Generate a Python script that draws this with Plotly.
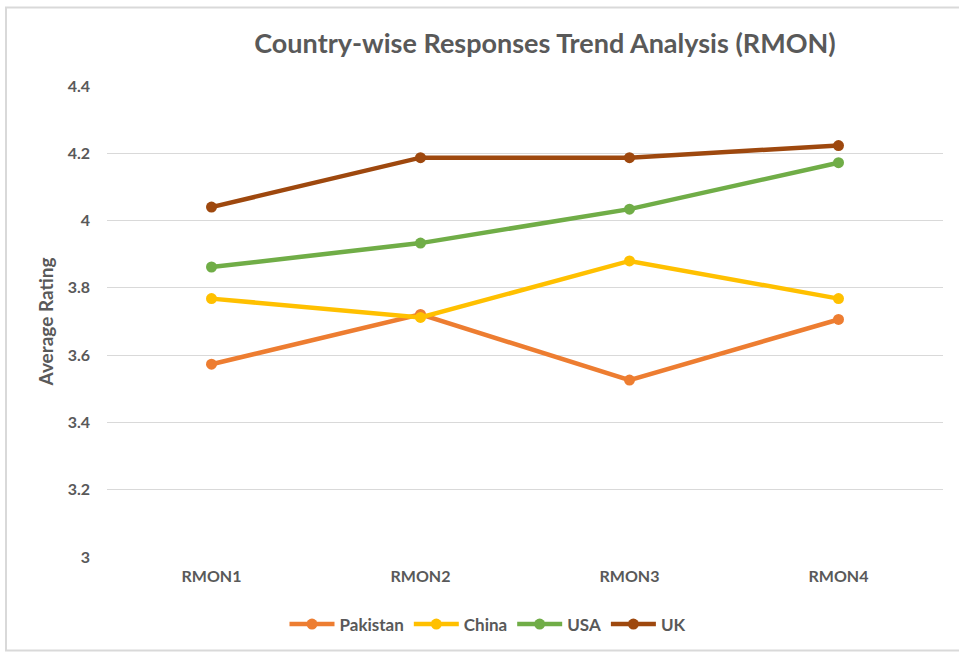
import plotly.graph_objects as go

categories = ["RMON1", "RMON2", "RMON3", "RMON4"]
pakistan = [3.573, 3.721, 3.526, 3.706]
china = [3.768, 3.712, 3.880, 3.768]
usa = [3.862, 3.933, 4.034, 4.172]
uk = [4.040, 4.187, 4.187, 4.223]

series = [
    ("Pakistan", pakistan, "#ED7D31"),
    ("China", china, "#FFC000"),
    ("USA", usa, "#70AD47"),
    ("UK", uk, "#9E480E"),
]

FONT = "Lato, 'Open Sans', Arial, sans-serif"
TEXT = "#595959"

fig = go.Figure()
for name, vals, color in series:
    fig.add_trace(go.Scatter(
        x=categories, y=vals, name=name, mode="lines+markers",
        line=dict(color=color, width=4.5),
        marker=dict(color=color, size=11),
    ))

W, H = 959, 655
ml, mr, mt, mb = 107, 16, 86, 95
pw, ph = W - ml - mr, H - mt - mb

def px(x):
    return (x - ml) / pw

def py(y):
    return (H - mb - y) / ph

fig.update_layout(
    width=W, height=H,
    margin=dict(l=ml, r=mr, t=mt, b=mb),
    paper_bgcolor="white", plot_bgcolor="white",
    font=dict(family=FONT, color=TEXT),
    title=dict(
        text="Country-wise Responses Trend Analysis (RMON)",
        x=px(545), xanchor="center", xref="paper",
        y=1 - 44 / H, yanchor="middle",
        font=dict(size=27, color=TEXT, family=FONT, weight="bold"),
    ),
    xaxis=dict(
        type="category", range=[-0.5, 3.5],
        showgrid=False, zeroline=False, showline=False,
        ticks="", tickfont=dict(size=16, color=TEXT, family=FONT, weight="bold"),
        ticklabelstandoff=8,
    ),
    yaxis=dict(
        range=[3, 4.4], dtick=0.2, tickformat="~g",
        showgrid=True, gridcolor="#D9D9D9", gridwidth=1.3,
        zeroline=False, showline=False, ticks="",
        tickfont=dict(size=16, color=TEXT, family=FONT, weight="bold"),
        ticklabelstandoff=16,
        title=dict(text="Average Rating", standoff=8,
                   font=dict(size=19, color=TEXT, family=FONT, weight="bold")),
    ),
    legend=dict(
        orientation="h", x=px(488), xanchor="center",
        y=py(628), yanchor="middle",
        font=dict(size=17, color=TEXT, family=FONT, weight="bold"),
        itemwidth=45, tracegroupgap=0,
    ),
    shapes=[dict(
        type="rect", xref="paper", yref="paper",
        x0=px(6), x1=px(966), y0=py(654), y1=py(7),
        line=dict(color="#D9D9D9", width=2), layer="below",
    )],
)

fig.write_html("out.html")
